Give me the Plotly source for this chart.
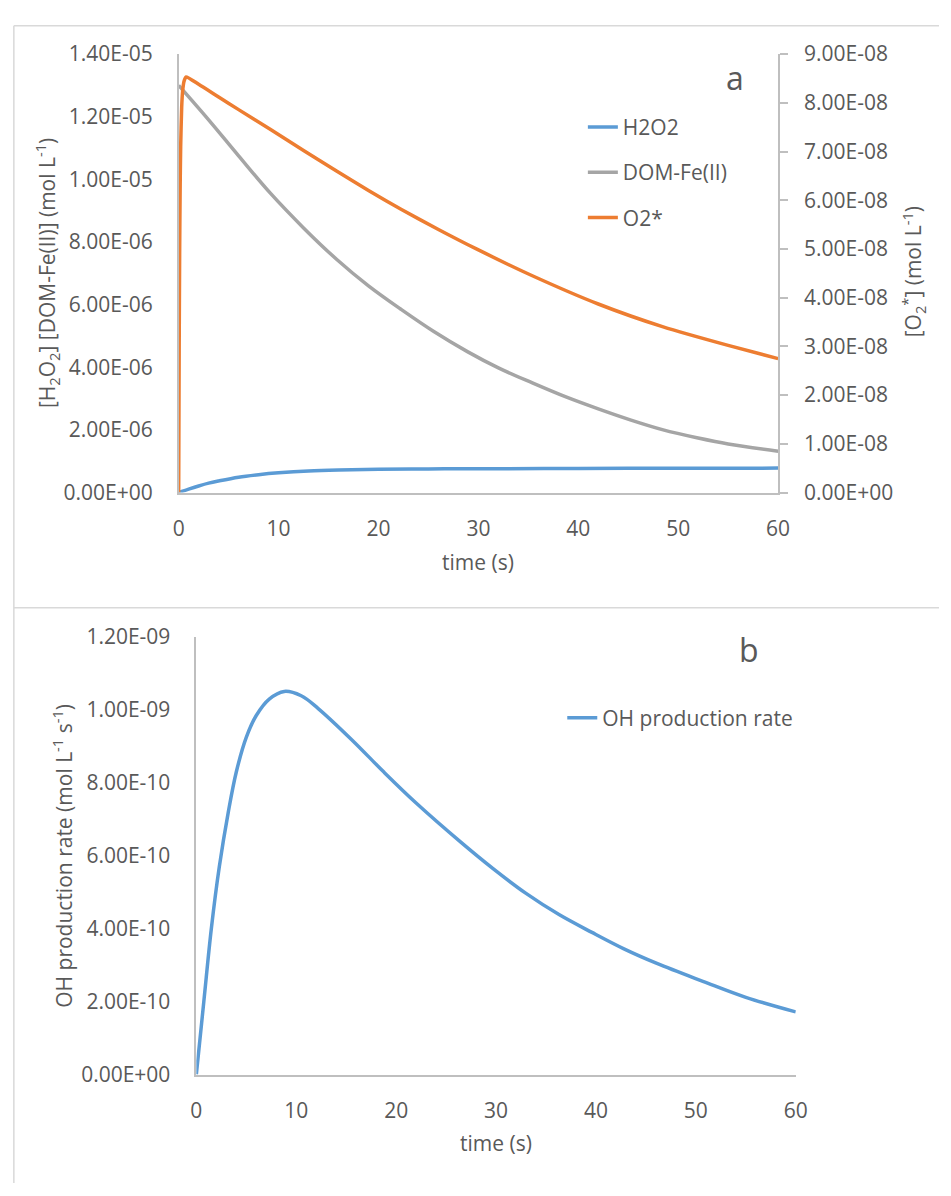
import plotly.graph_objects as go

# ---------------- data ----------------
t_h2o2 = [0, 1, 2, 3, 4, 6, 8, 10, 13, 16, 20, 25, 30, 40, 50, 60]
h2o2 = [0, 1.1e-7, 2.1e-7, 3.0e-7, 3.7e-7, 4.9e-7, 5.7e-7, 6.3e-7, 6.9e-7,
        7.2e-7, 7.4e-7, 7.55e-7, 7.6e-7, 7.7e-7, 7.75e-7, 7.8e-7]

t_dom = [0, 3, 6, 9.2, 12.5, 15.8, 19, 22.3, 25.5, 28.9, 32, 35.4, 38.7,
         42, 45.2, 48.5, 52, 55, 60]
dom_fe = [1.30e-5, 1.19e-5, 1.075e-5, 9.55e-6, 8.45e-6, 7.45e-6, 6.6e-6,
          5.84e-6, 5.15e-6, 4.5e-6, 3.98e-6, 3.5e-6, 3.06e-6, 2.67e-6,
          2.32e-6, 2.0e-6, 1.74e-6, 1.55e-6, 1.32e-6]

t_o2 = [0, 0.05, 0.1, 0.15, 0.2, 0.3, 0.4, 0.55, 0.75, 2, 4, 6, 9.2,
        12.5, 15.8, 19, 22.3, 26, 29.9, 35.4, 42, 48.5, 55, 60]
o2_star = [0, 2.9e-8, 5.0e-8, 6.3e-8, 7.1e-8, 7.9e-8, 8.25e-8, 8.45e-8,
           8.53e-8, 8.38e-8, 8.12e-8, 7.86e-8, 7.45e-8, 7.02e-8,
           6.60e-8, 6.20e-8, 5.81e-8, 5.40e-8, 4.99e-8, 4.45e-8, 3.87e-8,
           3.40e-8, 3.02e-8, 2.75e-8]

t_oh = [0, 0.75, 1.5, 2.3, 3.2, 4.0, 5.0, 6.0, 7.3, 8.8, 10.5, 12.2, 15.5,
        18.8, 22, 26.5, 29.7, 33, 36.3, 39.6, 42.8, 46.1, 50.7, 55, 60]
oh_rate = [0, 2.0e-10, 4.0e-10, 5.7e-10, 7.2e-10, 8.3e-10, 9.25e-10,
           9.85e-10, 1.03e-9, 1.051e-9, 1.039e-9, 1.004e-9, 9.20e-10,
           8.29e-10, 7.45e-10, 6.37e-10, 5.65e-10, 4.97e-10, 4.39e-10,
           3.90e-10, 3.45e-10, 3.05e-10, 2.56e-10, 2.12e-10, 1.72e-10]

x_ticks = [0, 10, 20, 30, 40, 50, 60]
y_left_ticks = [i * 2e-6 for i in range(8)]
y_right_ticks = [i * 1e-8 for i in range(10)]
y_oh_ticks = [i * 2e-10 for i in range(7)]

# ---------------- styling ----------------
W, H = 951, 1196
FONT = "Open Sans"
TXT = "#595959"
AX = "#BFBFBF"
BLUE, GRAY, ORANGE = "#5B9BD5", "#A5A5A5", "#ED7D31"
FS = 21


def px(x):
    return x / W


def py(y):
    return 1 - y / H


def lab(v):
    return f"{v:.2E}"


fig = go.Figure()
fig.add_trace(go.Scatter(x=t_h2o2, y=h2o2, name="H2O2", mode="lines",
                         line=dict(color=BLUE, width=3.5, shape="spline"),
                         xaxis="x", yaxis="y", legend="legend",
                         legendgroup="a1"))
fig.add_trace(go.Scatter(x=t_dom, y=dom_fe, name="DOM-Fe(II)", mode="lines",
                         line=dict(color=GRAY, width=3.5, shape="spline"),
                         xaxis="x", yaxis="y", legend="legend",
                         legendgroup="a2"))
fig.add_trace(go.Scatter(x=t_o2, y=o2_star, name="O2*", mode="lines",
                         line=dict(color=ORANGE, width=3.5, shape="spline",
                                   smoothing=0.6),
                         xaxis="x", yaxis="y2", legend="legend",
                         legendgroup="a3"))
fig.add_trace(go.Scatter(x=t_oh, y=oh_rate, name="OH production rate",
                         mode="lines",
                         line=dict(color=BLUE, width=3.5, shape="spline"),
                         xaxis="x2", yaxis="y3", legend="legend2"))

tickfont = dict(family=FONT, size=FS, color=TXT)
common = dict(showline=True, linecolor=AX, linewidth=1.5, showgrid=False,
              zeroline=False, tickfont=tickfont)

top_dom = [py(489), py(40)]
bot_dom = [py(1085), py(637)]

fig.update_layout(
    width=W, height=H,
    margin=dict(l=0, r=0, t=0, b=0),
    paper_bgcolor="white", plot_bgcolor="white",
    font=dict(family=FONT, color=TXT),
    xaxis=dict(domain=[px(176), px(787)], range=[0, 60], anchor="y",
               tickvals=x_ticks, ticks="", ticklabelstandoff=16, **common),
    yaxis=dict(domain=top_dom, range=[0, 1.4e-5], anchor="x",
               tickvals=y_left_ticks, ticktext=[lab(v) for v in y_left_ticks],
               ticks="", ticklabelstandoff=20, **common),
    yaxis2=dict(overlaying="y", side="right", anchor="x", range=[0, 9e-8],
                tickvals=y_right_ticks,
                ticktext=[lab(v) for v in y_right_ticks],
                ticks="outside", ticklen=8, tickcolor=AX, tickwidth=1.5,
                ticklabelstandoff=12, **common),
    xaxis2=dict(domain=[px(194), px(805)], range=[0, 60], anchor="y3",
                tickvals=x_ticks, ticks="", ticklabelstandoff=16, **common),
    yaxis3=dict(domain=bot_dom, range=[0, 1.2e-9], anchor="x2",
                tickvals=y_oh_ticks, ticktext=[lab(v) for v in y_oh_ticks],
                ticks="", ticklabelstandoff=20, **common),
    legend=dict(x=px(588), y=py(94), xanchor="left", yanchor="top",
                bgcolor="rgba(0,0,0,0)", traceorder="grouped",
                tracegroupgap=15,
                font=dict(family=FONT, size=FS, color=TXT)),
    legend2=dict(x=px(567), y=py(699), xanchor="left", yanchor="top",
                 bgcolor="rgba(0,0,0,0)",
                 font=dict(family=FONT, size=FS, color=TXT)),
    showlegend=True,
)

# panel borders (kept inside the page)
border_lines = [
    (8, 11, W, 11),      # top edge of panel a
    (8, 607, W, 607),    # edge between panels
    (8, 11, 8, H),       # left edge of both panels
]
for (x0, y0, x1, y1) in border_lines:
    fig.add_shape(type="line", xref="paper", yref="paper",
                  x0=px(x0), x1=px(x1), y0=py(y0), y1=py(y1),
                  line=dict(color="#D9D9D9", width=1.5), layer="below")

ann = [
    dict(x=42, y=264, text="[H<sub>2</sub>O<sub>2</sub>] [DOM-Fe(II)] (mol L<sup>-1</sup>)",
         angle=-90, size=FS),
    dict(x=925, y=263, text="[O<sub>2</sub><sup>*</sup>] (mol L<sup>-1</sup>)",
         angle=-90, size=FS),
    dict(x=481, y=560, text="time (s)", angle=0, size=FS),
    dict(x=58, y=861, text="OH production rate (mol L<sup>-1</sup> s<sup>-1</sup>)",
         angle=-90, size=FS),
    dict(x=499, y=1155, text="time (s)", angle=0, size=FS),
    dict(x=743, y=64, text="a", angle=0, size=32),
    dict(x=757, y=650, text="b", angle=0, size=32),
]
for a in ann:
    fig.add_annotation(x=px(a["x"]), y=py(a["y"]), xref="paper", yref="paper",
                       text=a["text"], textangle=a["angle"], showarrow=False,
                       xanchor="center", yanchor="middle",
                       font=dict(family=FONT, size=a["size"], color=TXT))

fig.write_html("out.html",
               config={"displayModeBar": False},
               post_script="document.body.style.margin='0';"
                           "document.body.style.overflow='hidden';")
